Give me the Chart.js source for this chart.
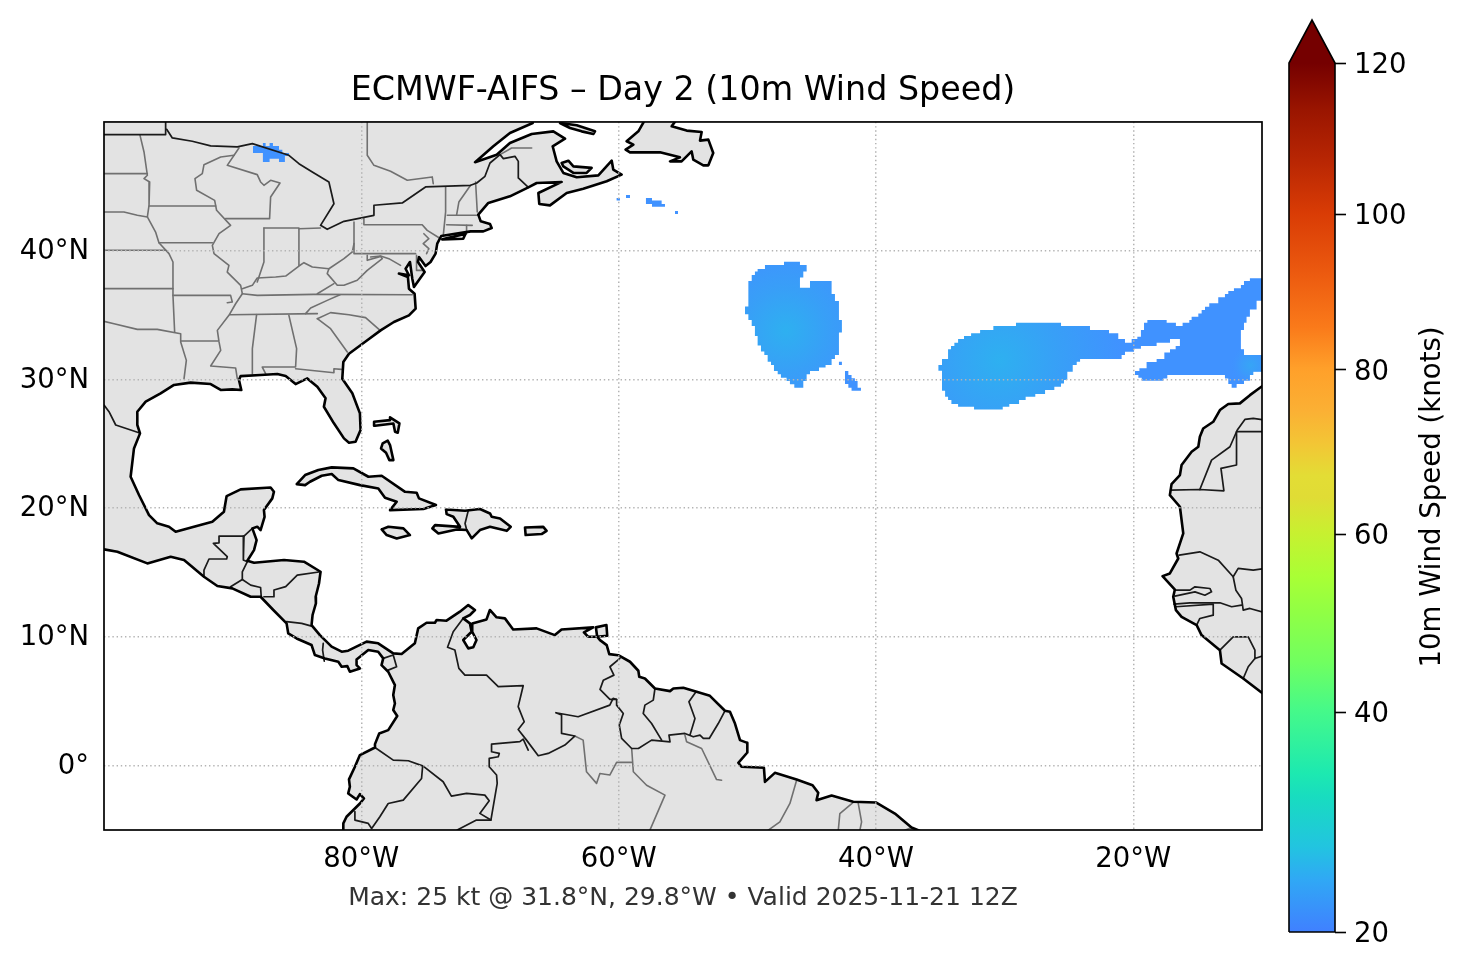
<!DOCTYPE html>
<html>
<head>
<meta charset="utf-8">
<title>ECMWF-AIFS Day 2</title>
<script src="https://cdn.jsdelivr.net/npm/chart.js@4"></script>
<style>
  html, body { margin: 0; padding: 0; background: #fff; }
  canvas { position: absolute; top: 0; }
  #mapChart { left: 0; }
  #barChart { left: 1266px; }
</style>
</head>
<body>
<canvas id="mapChart" width="1366" height="969"></canvas>
<canvas id="barChart" width="200" height="969"></canvas>
<script>
// axis ticks
const lonTicks = [-80, -60, -40, -20];
const latTicks = [0, 10, 20, 30, 40];

// land outlines, [lon, lat]
const landAmericas = [[-102,51],[-66.5,51],[-66.68,49.92],[-68.45,49.14],[-69.74,48.11],[-71.16,46.87],[-69.48,47.46],[-68.45,48.37],[-66.76,49.07],[-65.08,49.27],[-64.17,48.70],[-65.13,48.11],[-64.82,46.94],[-64.30,46.04],[-63.26,45.70],[-61.58,45.85],[-60.54,46.99],[-60.42,46.30],[-59.77,45.91],[-60.93,45.39],[-62.75,44.82],[-64.04,44.48],[-65.34,43.52],[-66.17,43.63],[-66.24,44.48],[-64.43,45.34],[-66.37,45.26],[-67.02,44.92],[-68.45,44.22],[-70.13,43.71],[-70.91,42.80],[-70.72,42.28],[-70.0,42.07],[-69.87,41.76],[-70.52,41.50],[-71.5,41.5],[-73.79,41.14],[-74.10,40.55],[-74.23,39.77],[-74.62,39.12],[-75.01,38.81],[-75.52,39.51],[-75.60,39.12],[-75.08,38.34],[-75.91,37.18],[-76.04,37.83],[-76.22,39.12],[-76.56,38.60],[-76.30,38.09],[-77.08,38.22],[-76.38,37.96],[-76.30,37.05],[-75.86,36.66],[-75.78,35.50],[-76.30,34.98],[-77.47,34.46],[-78.50,33.81],[-79.54,33.04],[-80.96,32.0],[-81.40,31.35],[-81.48,30.06],
  [-80.70,28.92],[-80.11,27.36],[-80.06,26.07],[-80.45,25.16],[-80.96,25.08],[-81.35,25.42],[-82.13,26.59],[-82.91,27.88],[-82.78,28.53],[-83.42,29.43],[-84.20,30.08],[-85.11,29.64],[-85.88,30.26],[-86.53,30.42],[-87.83,30.34],[-89.38,30.26],[-89.51,29.95],[-89.33,29.18],[-90.03,29.23],[-90.93,29.18],[-91.71,29.64],[-93.27,29.75],[-94.56,29.57],[-95.60,28.92],[-96.76,28.27],[-97.41,27.49],[-97.41,26.46],[-97.20,25.81],[-97.67,24.64],[-97.93,22.44],[-97.28,21.02],[-96.50,19.46],[-95.86,18.82],[-94.95,18.56],[-94.43,18.17],[-93.01,18.56],[-91.58,18.95],[-90.68,19.72],[-90.47,20.94],[-89.38,21.46],[-87.05,21.61],[-86.79,21.28],[-86.92,20.76],[-87.57,19.85],[-87.52,19.33],[-87.83,18.30],[-88.09,18.56],[-88.47,18.43],[-88.14,17.52],[-88.34,16.74],[-88.86,15.92],[-88.34,15.76],[-86.01,15.97],[-84.46,15.84],[-83.17,15.06],[-83.29,14.15],[-83.55,13.12],
  [-83.53,12.60],[-83.79,11.70],[-83.87,10.92],[-83.22,10.14],[-82.31,9.24],[-81.53,8.85],[-81.02,8.93],[-79.59,9.63],[-78.69,9.50],[-77.52,8.72],[-76.87,8.67],[-75.84,9.50],[-75.58,10.66],[-74.93,11.10],[-74.28,11.10],[-74.15,11.31],[-73.38,11.26],[-72.34,11.96],[-71.69,12.47],[-71.17,12.09],[-71.56,11.70],[-72.08,11.44],[-71.56,11.05],[-71.43,10.40],[-72.08,9.76],[-71.69,9.11],[-71.30,9.19],[-71.05,9.76],[-71.38,10.40],[-71.38,11.05],[-70.27,11.36],[-70.01,12.09],[-69.49,11.52],[-68.84,11.44],[-68.20,10.58],[-66.38,10.66],[-64.96,10.14],[-64.44,10.58],[-61.98,10.74],[-62.70,10.35],[-62.37,10.01],[-61.67,10.01],[-61.45,9.75],[-60.93,9.36],[-60.73,8.66],[-60.03,8.58],[-59.12,8.07],[-58.47,7.37],[-58.40,6.90],[-57.96,6.77],[-57.18,5.99],[-56.01,5.79],[-55.75,5.99],[-54.98,6.05],[-53.94,5.74],[-52.91,5.42],[-51.74,4.26],[-51.35,4.18],[-50.96,3.27],[-50.57,1.98],[-50.0,1.77],[-50.0,1.02],[-50.70,0.22],[-50.45,-0.09],[-48.71,-0.17],[-48.63,-1.26],[-47.86,-0.56],[-46.17,-1.08],[-44.93,-1.52],[-44.49,-2.11],[-44.62,-2.68],[-43.45,-2.32],[-41.77,-2.81],[-40.01,-2.86],[-38.53,-3.72],[-37.24,-4.81],[-36.72,-5.01],[-35.3,-5.8],[-35,-6.5],[-81.6,-6.5],
  [-81.40,-4.96],[-81.40,-4.49],[-81.15,-3.97],[-80.11,-2.94],[-79.80,-2.55],[-80.11,-2.21],[-80.37,-2.63],[-81.02,-2.16],[-80.89,-1.64],[-80.96,-1.07],[-80.50,-0.09],[-80.11,0.82],[-78.94,1.41],[-78.94,1.67],[-78.61,2.50],[-77.91,2.76],[-77.21,3.85],[-77.52,4.32],[-77.39,4.83],[-77.52,5.48],[-77.39,6.26],[-77.91,7.29],[-78.43,7.81],[-78.30,8.33],[-78.69,8.85],[-79.46,8.98],[-80.37,8.25],[-80.37,7.81],[-80.11,7.55],[-80.89,7.29],[-81.09,7.73],[-81.53,7.68],[-81.79,8.07],[-82.83,8.33],[-83.61,8.59],[-83.87,9.37],[-85.03,9.88],[-85.68,10.27],[-85.81,11.05],[-86.84,12.09],[-87.83,13.12],[-88.60,13.12],[-90.03,13.77],[-91.19,13.95],[-92.23,14.67],[-93.78,15.97],[-94.82,16.23],[-96.63,15.71],[-98.96,16.61],[-100,16.80],[-102,16.9],[-102,51]];
const landAfrica = [[-9.77,29.64],[-10.94,28.78],[-11.72,28.14],[-12.62,28.09],[-13.27,27.62],[-13.79,26.71],[-14.57,26.19],[-14.83,25.55],[-14.95,24.77],[-15.47,24.38],[-16.25,23.35],[-16.38,22.57],[-17.03,21.87],[-17.16,21.01],[-16.38,20.11],[-16.12,18.04],[-16.64,16.48],[-16.51,16.09],[-17.16,14.93],[-17.73,14.72],[-16.77,13.68],[-16.90,13.12],[-16.69,12.08],[-16.25,11.56],[-15.08,10.91],[-14.70,10.14],[-13.27,8.97],[-13.14,7.93],[-11.46,6.77],[-9.77,5.47],[-8,5],[-8,31],[-9.77,29.64]];
const islandAnticosti = [[-64.56,49.92],[-63.26,49.74],[-61.84,49.27],[-61.97,49.07],[-62.88,49.27],[-63.78,49.53],[-64.56,49.92]];
const islandPEI = [[-64.43,46.81],[-63.91,46.99],[-63.52,46.55],[-62.10,46.43],[-62.49,46.04],[-63.52,46.04],[-64.30,46.55],[-64.43,46.81]];
const islandNewfoundland = [[-57.95,50.18],[-58.47,49.27],[-59.38,48.50],[-58.86,48.24],[-59.46,47.85],[-59.12,47.64],[-56.79,47.64],[-55.24,47.25],[-56.01,46.94],[-55.11,46.94],[-54.33,47.72],[-54.20,47.07],[-53.42,46.63],[-53.03,46.63],[-52.65,47.59],[-53.03,48.63],[-53.68,48.55],[-53.55,49.22],[-54.72,49.33],[-55.88,49.66],[-55.50,50.18],[-57.95,50.18]];
const islandLong = [[-73.71,40.88],[-71.90,41.32],[-72.08,40.93],[-73.71,40.88]];
const islandCuba = [[-85.02,21.87],[-84.37,22.57],[-83.34,22.96],[-82.30,23.17],[-80.62,23.09],[-79.45,22.44],[-78.42,22.52],[-76.60,21.27],[-75.70,21.20],[-75.52,20.76],[-74.20,20.24],[-75.18,19.93],[-77.77,19.85],[-77.25,20.50],[-78.16,20.81],[-78.68,21.53],[-80.10,21.79],[-81.78,22.18],[-82.30,22.65],[-83.08,22.52],[-83.99,22.05],[-84.37,21.79],[-85.02,21.87]];
const islandJamaica = [[-78.42,18.35],[-77.90,18.55],[-76.73,18.43],[-76.22,17.91],[-77.25,17.65],[-78.03,17.91],[-78.42,18.35]];
const islandHispaniola = [[-73.42,19.90],[-71.94,19.80],[-70.78,19.93],[-70.0,19.59],[-69.87,19.33],[-69.22,19.20],[-68.39,18.55],[-68.70,18.24],[-70.0,18.55],[-70.78,18.30],[-71.42,17.65],[-71.81,18.30],[-72.59,18.35],[-74.01,18.04],[-74.48,18.43],[-74.27,18.68],[-72.33,18.55],[-72.85,19.33],[-73.37,19.54],[-73.42,19.90]];
const islandPuertoRico = [[-67.28,18.50],[-65.86,18.55],[-65.60,18.24],[-65.99,17.99],[-67.23,17.91],[-67.28,18.50]];
const islandAbaco = [[-79.01,26.71],[-77.77,26.84],[-77.77,27.05],[-77.04,26.58],[-77.17,25.86],[-77.38,25.94],[-77.51,26.58],[-78.94,26.40],[-79.01,26.71]];
const islandAndros = [[-78.34,25.03],[-77.95,25.24],[-77.77,24.90],[-77.51,23.73],[-77.82,23.73],[-78.08,24.30],[-78.47,24.64],[-78.34,25.03]];
const islandTrinidad = [[-61.77,10.74],[-60.95,10.92],[-60.89,10.09],[-61.67,10.01],[-61.77,10.74]];

// country borders
const countryLines = [
  [[-100,49.02],[-95.21,49.02],[-95.21,50]],
  [[-95.13,49.43],[-94.69,48.76],[-93.14,48.50],[-91.71,48.14],[-89.64,48.06],[-88.47,48.32],[-85.63,47.41],[-84.85,46.76],[-83.81,46.12],[-82.52,45.34],[-82.13,43.65],[-83.17,41.97],[-82.65,41.66],[-81.35,42.28],[-79.02,42.75],[-79.02,43.53],[-76.82,43.71],[-75.01,44.95],[-71.51,45.08],[-71.03,45.26],[-70.39,45.78],[-70.0,46.81],[-69.22,47.46],[-68.96,47.15],[-68.06,47.33],[-67.80,46.94],[-67.80,45.65],[-67.02,44.92]],
  [[-100,28.01],[-99.61,27.49],[-99.09,26.46],[-97.28,25.86]],
  [[-88.47,18.43],[-89.12,17.83],[-89.17,15.97],[-88.86,15.84]],
  [[-89.12,17.83],[-91.06,17.83],[-91.06,17.31],[-91.50,17.26],[-90.42,16.23],[-90.47,16.05],[-91.84,16.05],[-92.23,15.19],[-92.23,14.67]],
  [[-88.86,15.84],[-89.25,15.06],[-89.25,14.46],[-90.16,13.90]],
  [[-89.25,14.46],[-88.60,14.02],[-87.83,13.84],[-87.78,13.12]],
  [[-83.17,15.06],[-84.98,14.80],[-85.88,13.90],[-86.79,13.64],[-86.79,13.12],[-87.57,13.12]],
  [[-85.81,11.18],[-84.64,11.05],[-83.87,10.84]],
  [[-82.96,9.50],[-83.01,8.98],[-82.88,8.12]],
  [[-78.30,8.33],[-77.52,8.59],[-77.26,7.68],[-77.91,7.42]],
  [[-72.08,11.44],[-72.86,10.40],[-73.30,9.19],[-72.73,8.98],[-72.42,7.55],[-71.95,7.03],[-70.27,7.03],[-69.36,6.13],[-67.42,6.21],[-67.81,4.58],[-67.34,3.41],[-67.81,2.81],[-67.16,1.98],[-66.25,0.77],[-65.48,0.95],[-64.18,1.60],[-63.41,2.30],[-64.44,2.50],[-64.44,3.93],[-64.88,4.11],[-63.15,3.80],[-60.69,4.70],[-60.43,5.22],[-60.16,5.14]],
  [[-59.90,8.33],[-60.68,7.68],[-60.37,7.03],[-61.19,6.64],[-61.45,5.92],[-60.68,5.14],[-60.16,5.14],[-60.16,4.70],[-59.64,4.05],[-59.95,3.15],[-59.77,2.11],[-58.99,1.33],[-58.47,1.33],[-57.44,1.98],[-56.01,1.85],[-56.09,2.37],[-54.85,2.50],[-54.20,2.24],[-53.68,2.37],[-53.42,2.11],[-52.96,2.11],[-52.26,3.27],[-51.74,4.26]],
  [[-57.18,5.99],[-57.31,5.09],[-57.96,4.70],[-58.09,4.05],[-57.44,3.27],[-56.66,1.98]],
  [[-53.99,5.74],[-54.54,4.96],[-54.07,3.66],[-54.46,2.37]],
  [[-78.94,1.41],[-77.52,0.43],[-76.35,0.38],[-75.19,-0.04],[-73.64,-1.25],[-73.0,-2.37],[-71.82,-2.16],[-70.40,-2.29],[-70.06,-2.73],[-70.79,-3.71],[-69.93,-4.23]],
  [[-75.24,-0.09],[-75.32,-1.0],[-76.74,-2.68],[-77.91,-2.94],[-78.56,-3.97],[-79.20,-4.88],[-79.46,-4.49],[-80.50,-4.23],[-80.50,-3.58]],
  [[-67.03,1.21],[-67.42,2.06],[-67.68,1.86],[-69.88,1.67],[-69.88,1.08],[-69.28,0.95],[-69.36,0.69],[-70.06,0.56],[-70.06,-0.09],[-69.49,-0.73],[-69.44,-1.38],[-69.93,-4.23],[-71.05,-4.23],[-72.47,-4.96],[-73.1,-5.4]],
  [[-71.68,19.85],[-71.94,18.81],[-71.81,18.30]],
  [[-17.10,21.40],[-14.83,21.45],[-12.96,21.35],[-13.19,23.09],[-11.98,23.35],[-11.98,25.94],[-9.77,25.94]],
  [[-14.83,21.45],[-13.92,23.73],[-12.49,24.77],[-11.92,26.07],[-11.33,26.89],[-10.68,26.97],[-9.77,26.84]],
  [[-16.43,16.35],[-14.83,16.61],[-13.40,15.96],[-12.24,14.67],[-11.85,15.32],[-10.68,15.19],[-9.77,15.32]],
  [[-12.24,14.67],[-12.03,13.63],[-11.59,12.99],[-11.46,12.08],[-10.94,12.21],[-9.77,11.87]],
  [[-16.77,13.63],[-15.60,13.63],[-15.21,13.89],[-14.05,13.76],[-13.92,13.50],[-14.44,13.24],[-15.21,13.50],[-16.77,13.17]],
  [[-16.84,12.55],[-15.60,12.65],[-13.27,12.65],[-12.36,12.34],[-11.59,12.47]],
  [[-16.69,12.34],[-13.79,12.55],[-13.79,11.69],[-14.83,11.43],[-15.08,10.91]],
  [[-13.27,8.97],[-12.24,10.0],[-11.07,10.0],[-10.55,8.97],[-10.55,8.32],[-9.77,8.58]],
  [[-11.46,6.77],[-11.07,7.68],[-10.55,8.32]]
];

// state and province borders
const stateLines = [
  [[-97.20,48.96],[-96.89,47.67],[-96.63,45.86],[-96.89,45.60],[-96.45,45.34],[-96.50,43.53],[-96.63,42.62]],
  [[-100,45.99],[-96.63,45.99]],
  [[-100,43.01],[-98.45,43.01],[-97.41,42.75],[-96.63,42.62],[-95.99,41.45],[-95.73,40.62],[-94.95,39.77],[-94.64,39.12],[-94.64,36.53]],
  [[-100,40.03],[-95.21,40.03]],
  [[-100,37.05],[-94.64,37.05]],
  [[-96.50,43.47],[-91.32,43.47]],
  [[-89.90,47.41],[-90.93,47.28],[-92.23,46.68],[-92.36,45.99],[-92.93,45.60],[-92.80,44.69],[-91.40,43.91],[-91.25,43.14],[-90.16,41.97],[-91.06,41.32],[-91.58,40.42],[-91.45,39.77],[-90.29,38.86],[-90.42,38.34],[-89.38,37.31],[-89.25,36.66],[-89.77,35.88],[-90.29,34.98],[-91.19,33.81],[-91.06,32.91],[-90.93,32.26],[-91.71,31.04],[-89.77,30.89],[-89.64,30.06]],
  [[-89.51,47.98],[-90.42,46.63],[-88.09,45.91],[-87.83,45.34],[-87.57,45.08],[-87.05,45.47],[-86.32,45.26],[-87.05,44.17],[-87.13,42.49],[-90.55,42.49]],
  [[-95.73,40.62],[-91.58,40.62]],
  [[-87.57,41.76],[-87.57,39.12],[-88.09,37.57]],
  [[-87.57,41.76],[-84.85,41.76],[-84.85,38.86]],
  [[-84.85,41.71],[-83.17,41.76]],
  [[-89.25,37.05],[-88.47,37.31],[-88.09,37.88],[-86.66,37.96],[-85.88,38.03],[-84.85,38.81],[-84.46,39.07],[-83.81,38.73],[-82.52,38.60],[-81.35,39.38],[-80.70,39.90],[-80.57,40.55]],
  [[-80.57,42.23],[-80.57,39.77],[-75.78,39.77]],
  [[-79.80,42.49],[-79.80,42.02],[-75.27,42.02],[-74.88,41.58],[-73.84,40.93]],
  [[-75.14,41.32],[-74.75,40.93],[-75.19,40.55],[-74.75,40.16],[-74.93,39.77]],
  [[-82.52,38.60],[-82.65,38.22],[-81.87,37.31],[-81.35,37.31],[-80.32,37.70],[-79.54,38.47],[-78.37,39.38],[-78.50,39.56],[-79.54,39.25],[-79.54,39.64]],
  [[-82.13,37.44],[-83.42,36.66]],
  [[-79.28,39.51],[-78.50,39.59],[-77.86,39.38],[-76.95,38.86]],
  [[-89.25,36.66],[-88.09,36.53],[-83.68,36.61],[-76.04,36.58]],
  [[-94.56,36.53],[-90.16,36.53],[-90.03,36.01],[-90.42,35.96]],
  [[-94.64,36.53],[-94.51,33.68]],
  [[-100,34.51],[-99.22,34.33],[-97.41,33.89],[-95.86,33.89],[-94.04,33.55],[-94.04,32.91],[-93.60,31.48],[-93.78,30.06]],
  [[-94.04,32.98],[-91.14,32.98]],
  [[-90.21,35.03],[-83.42,35.11]],
  [[-88.14,35.03],[-88.47,32.39],[-88.47,30.45]],
  [[-85.63,34.98],[-85.03,32.39],[-85.11,30.96],[-87.70,30.96],[-87.44,30.45]],
  [[-85.11,30.83],[-82.13,30.52],[-82.13,30.83],[-81.56,30.78]],
  [[-84.33,35.11],[-83.94,35.55],[-82.65,36.14],[-81.66,36.58]],
  [[-83.42,34.72],[-82.39,33.94],[-81.09,32.13]],
  [[-83.42,34.72],[-82.39,35.19],[-80.96,35.03],[-79.67,34.80],[-78.63,33.89]],
  [[-73.45,44.95],[-73.45,43.01],[-73.63,41.19]],
  [[-71.51,45.08],[-72.42,43.78],[-72.60,42.75]],
  [[-71.12,45.34],[-70.99,43.01]],
  [[-73.32,42.75],[-70.86,42.75]],
  [[-73.37,42.02],[-71.38,41.97]],
  [[-71.82,41.97],[-71.82,41.32]],
  [[-75.71,39.64],[-75.71,38.47],[-75.14,38.47]],
  [[-79.54,50],[-79.54,47.41],[-79.02,46.63],[-77.73,46.17],[-76.43,45.47],[-74.49,45.73],[-74.41,45.21]],
  [[-69.22,47.46],[-68.32,47.98],[-66.76,47.98]],
  [[-63.41,2.30],[-62.76,1.98],[-62.50,-0.48],[-61.72,-1.38],[-61.46,-0.61],[-60.69,-0.73],[-60.16,0.25],[-58.99,0.25]],
  [[-58.99,1.33],[-58.86,-0.48],[-57.83,-1.52],[-56.40,-2.29],[-57.57,-5.01],[-58,-6]],
  [[-54.85,2.37],[-54.72,1.85],[-53.55,1.33],[-52.39,-1.08],[-52.0,-1.13]],
  [[-46.17,-1.13],[-46.69,-2.94],[-47.47,-4.37],[-48.37,-5.01],[-49,-5.5]],
  [[-41.77,-2.86],[-42.81,-3.72],[-42.93,-5.01],[-42.93,-6]],
  [[-41.38,-2.94],[-41.12,-4.37],[-41.25,-5.01],[-41.25,-6]],
  [[-37.24,-4.81],[-37.75,-5.01],[-38.5,-6]]
];

// wind speed areas over 20 kt
const windWest = [[-47.15,39.15],[-45.91,39.15],[-45.91,38.89],[-45.39,38.89],[-45.39,38.38],[-45.65,38.38],[-45.65,37.91],[-45.91,37.91],[-45.91,37.13],[-45.13,37.13],[-45.13,37.65],[-43.45,37.65],[-43.45,36.64],[-43.19,36.64],[-43.19,36.10],[-42.88,36.10],[-42.88,34.62],[-42.65,34.62],[-42.65,33.64],[-42.88,33.64],[-42.88,31.90],[-43.19,31.90],[-43.19,31.59],[-43.45,31.59],[-43.45,31.12],[-43.92,31.12],[-43.92,30.92],[-44.43,30.92],[-44.43,30.66],[-45.13,30.66],[-45.13,30.40],[-45.39,30.40],[-45.39,29.88],[-45.65,29.88],[-45.65,29.36],[-46.35,29.36],[-46.35,29.62],[-46.69,29.62],[-46.69,29.88],[-46.95,29.88],[-46.95,30.14],[-47.39,30.14],[-47.39,30.40],[-47.64,30.40],[-47.64,30.66],[-47.93,30.66],[-47.93,31.12],[-48.16,31.12],[-48.16,31.38],[-48.42,31.38],[-48.42,31.90],[-48.68,31.90],[-48.68,32.16],[-48.94,32.16],[-48.94,32.63],[-49.20,32.63],[-49.20,33.38],[-49.41,33.38],[-49.41,34.15],[-49.66,34.15],[-49.66,34.62],[-49.92,34.62],[-49.92,35.06],[-50.18,35.06],[-50.18,35.66],[-49.92,35.66],[-49.92,37.65],[-49.66,37.65],[-49.66,38.12],[-49.41,38.12],[-49.41,38.38],[-49.20,38.38],[-49.20,38.58],[-48.63,38.58],[-48.63,38.89],[-47.15,38.89],[-47.15,39.15]];
const windEast = [[-35.15,31.12],[-35.15,30.68],[-34.87,30.68],[-34.87,29.12],[-34.63,29.12],[-34.63,28.66],[-34.40,28.66],[-34.40,28.40],[-34.14,28.40],[-34.14,28.09],[-33.62,28.09],[-33.62,27.88],[-32.38,27.88],[-32.38,27.67],[-30.15,27.67],[-30.15,27.88],[-29.64,27.88],[-29.64,28.09],[-28.88,28.09],[-28.88,28.40],[-28.37,28.40],[-28.37,28.66],[-27.62,28.66],[-27.62,28.87],[-26.86,28.87],[-26.86,29.18],[-26.14,29.18],[-26.14,29.44],[-25.62,29.44],[-25.62,29.69],[-25.39,29.69],[-25.39,29.95],[-25.13,29.95],[-25.13,30.60],[-24.71,30.60],[-24.71,31.12],[-24.40,31.12],[-24.40,31.38],[-24.14,31.38],[-24.14,31.58],[-20.91,31.58],[-20.91,31.90],[-20.65,31.90],[-20.65,32.15],[-19.95,32.15],[-19.95,32.39],[-19.41,32.39],[-19.41,32.59],[-18.19,32.59],[-18.19,32.85],[-17.15,32.85],[-17.15,33.14],[-16.38,33.14],[-16.38,32.59],[-16.71,32.59],[-16.71,32.34],[-17.15,32.34],[-17.15,32.10],[-17.59,32.10],[-17.59,31.58],[-18.19,31.58],[-18.19,31.35],[-18.97,31.35],[-18.97,30.86],[-19.53,30.86],[-19.53,30.65],[-19.87,30.65],[-19.87,30.34],[-19.61,30.34],[-19.61,30.13],[-19.35,30.13],[-19.35,29.90],[-17.67,29.90],[-17.67,30.08],[-17.36,30.08],[-17.36,30.34],[-12.88,30.34],[-12.88,30.08],[-12.62,30.08],[-12.62,29.64],[-12.36,29.64],[-12.36,29.36],[-11.97,29.36],[-11.97,29.64],[-11.40,29.64],[-11.40,29.90],[-10.94,29.90],[-10.94,30.34],[-10.68,30.34],[-10.68,30.60],[-9.9,30.60],[-9.9,31.90],[-11.40,31.90],[-11.40,32.34],[-11.64,32.34],[-11.64,33.84],[-11.40,33.84],[-11.40,34.41],[-11.20,34.41],[-11.20,34.87],[-10.94,34.87],[-10.94,35.44],[-10.42,35.44],[-10.42,36.12],[-9.9,36.12],[-9.9,37.85],[-10.94,37.85],[-10.94,37.65],[-11.40,37.65],[-11.40,37.33],[-11.64,37.33],[-11.64,37.08],[-12.18,37.08],[-12.18,36.87],[-12.62,36.87],[-12.62,36.64],[-12.88,36.64],[-12.88,36.38],[-13.40,36.38],[-13.40,35.91],[-14.10,35.91],[-14.10,35.65],[-14.43,35.65],[-14.43,35.39],[-14.69,35.39],[-14.69,35.13],[-14.95,35.13],[-14.95,34.87],[-15.47,34.87],[-15.47,34.62],[-15.65,34.62],[-15.65,34.41],[-16.17,34.41],[-16.17,34.15],[-16.69,34.15],[-16.69,34.41],[-17.41,34.41],[-17.41,34.62],[-18.91,34.62],[-18.91,34.41],[-19.17,34.41],[-19.17,33.84],[-19.41,33.84],[-19.41,33.32],[-19.69,33.32],[-19.69,33.14],[-20.13,33.14],[-20.13,32.85],[-20.65,32.85],[-20.65,33.14],[-21.17,33.14],[-21.17,33.58],[-21.89,33.58],[-21.89,33.84],[-23.37,33.84],[-23.37,34.15],[-25.62,34.15],[-25.62,34.41],[-29.12,34.41],[-29.12,34.15],[-30.88,34.15],[-30.88,33.84],[-31.91,33.84],[-31.91,33.58],[-32.61,33.58],[-32.61,33.37],[-33.16,33.37],[-33.16,33.14],[-33.62,33.14],[-33.62,32.85],[-33.91,32.85],[-33.91,32.59],[-34.17,32.59],[-34.17,32.34],[-34.40,32.34],[-34.40,31.58],[-34.87,31.58],[-34.87,31.12],[-35.15,31.12]];
const windPatches = [
  [[-42.88,31.38],[-42.65,31.38],[-42.65,31.12],[-42.88,31.12]],
  [[-42.41,30.66],[-42.15,30.66],[-42.15,30.35],[-41.90,30.35],[-41.90,30.09],[-41.64,30.09],[-41.64,29.88],[-41.43,29.88],[-41.43,29.36],[-41.17,29.36],[-41.17,29.13],[-41.90,29.13],[-41.90,29.36],[-42.15,29.36],[-42.15,29.65],[-42.41,29.65]],
  [[-60.16,44.09],[-59.90,44.09],[-59.90,43.89],[-60.16,43.89]],
  [[-59.43,44.33],[-59.12,44.33],[-59.12,44.09],[-59.43,44.09]],
  [[-57.88,44.09],[-57.41,44.09],[-57.41,43.89],[-56.66,43.89],[-56.66,43.63],[-56.40,43.63],[-56.40,43.42],[-57.41,43.42],[-57.41,43.63],[-57.88,43.63]],
  [[-55.62,43.08],[-55.39,43.08],[-55.39,42.85],[-55.62,42.85]],
  [[-88.42,48.14],[-87.65,48.14],[-87.65,48.37],[-87.44,48.37],[-87.44,48.14],[-87.13,48.14],[-87.13,48.37],[-86.87,48.37],[-86.87,48.14],[-86.40,48.14],[-86.40,47.85],[-86.14,47.85],[-86.14,47.59],[-85.63,47.59],[-85.63,47.36],[-85.94,47.36],[-85.94,46.89],[-86.40,46.89],[-86.40,47.15],[-87.13,47.15],[-87.13,46.89],[-87.65,46.89],[-87.65,47.59],[-88.42,47.59]]
];

// colour bar: ticks sit unevenly along the bar
const barLabels = [20, 40, 60, 80, 100, 120];
const barTickPlace = [0, 0.253, 0.458, 0.647, 0.826, 1];
const barStopPlace = [0, 0.06, 0.098, 0.155, 0.183, 0.254, 0.31, 0.367, 0.409, 0.46, 0.5, 0.525, 0.563, 0.6, 0.648, 0.696, 0.754, 0.827, 0.888, 0.946, 1];
const barStopColor = ['#4080ff', '#30a8f5', '#22c4e0', '#18dcc0', '#1de9b0', '#45f98a', '#70ff60', '#90ff45', '#a9ff35', '#c8f030', '#e0dc35', '#e3dd35', '#f3c535', '#fbb034', '#ffa02a', '#fa7a1a', '#ed5c10', '#d93c05', '#b82603', '#9a1500', '#750000'];
const barShapeX = [0, 1, 1, 0.5, 0, 0];
const barShapeY = [0, 0, 1, 1.0495, 1, 0];

Chart.defaults.font.family = "'DejaVu Sans', sans-serif";
Chart.defaults.color = '#000';
Chart.defaults.animation = false;

const toPoints = pts => pts.map(p => ({ x: p[0], y: p[1] }));

// fades from a wind core out to the plain edge colour
function windFill(lon, lat, radius, core, middle, edge) {
  return function (c) {
    const { x, y } = c.chart.scales;
    const px = x.getPixelForValue(lon);
    const py = y.getPixelForValue(lat);
    const r = Math.abs(y.getPixelForValue(lat + radius) - py);
    if (!isFinite(px) || !isFinite(py) || !isFinite(r)) return edge; // scales not laid out yet
    const g = c.chart.ctx.createRadialGradient(px, py, 0, px, py, r);
    g.addColorStop(0, core);
    g.addColorStop(0.5, middle);
    g.addColorStop(1, edge);
    return g;
  };
}

function shape(pts, color, order) {
  return { data: toPoints(pts), showLine: true, fill: 'shape', backgroundColor: color, borderWidth: 0, pointRadius: 0, order: order };
}
function line(pts, color, width, order) {
  return { data: toPoints(pts), showLine: true, fill: false, borderColor: color, borderWidth: width, borderJoinStyle: 'round', borderCapStyle: 'round', pointRadius: 0, order: order };
}

const landShapes = [landAmericas, landAfrica, islandAnticosti, islandPEI, islandNewfoundland, islandLong, islandCuba, islandJamaica, islandHispaniola, islandPuertoRico, islandAbaco, islandAndros, islandTrinidad];

const mapSets = [];
landShapes.forEach(s => mapSets.push(shape(s, '#e3e3e3', 6)));
stateLines.forEach(s => mapSets.push(line(s, '#707070', 1.6, 5)));
mapSets.push(shape(windWest, windFill(-47, 33.8, 6.5, '#2eb0f0', '#389ff7', '#4092ff'), 4));
mapSets.push(shape(windEast, windFill(-30.4, 31.5, 9.5, '#2eb0f0', '#389ff7', '#4092ff'), 4));
mapSets.push(shape(windEast, windFill(-10.9, 31.1, 1.6, 'rgba(52,170,244,0.8)', 'rgba(52,170,244,0.35)', 'rgba(64,146,255,0)'), 3));
windPatches.forEach(s => mapSets.push(shape(s, '#4092ff', 4)));
countryLines.forEach(s => mapSets.push(line(s, '#1a1a1a', 1.7, 2)));
landShapes.forEach(s => mapSets.push(line(s, '#000', 2.6, 1)));

const frame = {
  id: 'frame',
  afterDraw(chart) {
    const a = chart.chartArea;
    const c = chart.ctx;
    c.save();
    c.strokeStyle = '#000';
    c.lineWidth = 1.7;
    c.strokeRect(a.left, a.top, a.right - a.left, a.bottom - a.top);
    c.restore();
  }
};

new Chart(document.getElementById('mapChart'), {
  type: 'scatter',
  data: { datasets: mapSets },
  plugins: [frame],
  options: {
    responsive: false,
    layout: { padding: 0 },
    plugins: {
      legend: { display: false },
      tooltip: { enabled: false },
      title: {
        display: true,
        text: 'ECMWF-AIFS – Day 2 (10m Wind Speed)',
        font: { size: 33.3, weight: 'normal' },
        padding: { top: 71, bottom: 11 }
      }
    },
    scales: {
      x: {
        type: 'linear',
        min: -100,
        max: -10,
        afterBuildTicks: s => { s.ticks = lonTicks.map(v => ({ value: v })); },
        afterFit: s => { s.height = 139; },
        ticks: {
          autoSkip: false,
          maxRotation: 0,
          padding: 13,
          font: { size: 27.5 },
          callback: v => Math.abs(v) + '°W'
        },
        grid: { color: '#b4b4b4', lineWidth: 1.5, drawTicks: false, z: 1 },
        border: { display: false, dash: [1.4, 2.8] },
        title: {
          display: true,
          text: 'Max: 25 kt @ 31.8°N, 29.8°W • Valid 2025-11-21 12Z',
          color: '#333',
          font: { size: 25 },
          padding: { top: 0, bottom: 56 }
        }
      },
      y: {
        type: 'linear',
        min: -5,
        max: 50,
        afterBuildTicks: s => { s.ticks = latTicks.map(v => ({ value: v })); },
        afterFit: s => { s.width = 104; },
        ticks: {
          autoSkip: false,
          padding: 15,
          labelOffset: 1,
          font: { size: 27.5 },
          callback: v => v === 0 ? '0°' : v + '°N'
        },
        grid: { color: '#b4b4b4', lineWidth: 1.5, drawTicks: false, z: 1 },
        border: { display: false, dash: [1.4, 2.8] }
      },
      y2: {
        type: 'linear',
        position: 'right',
        min: -5,
        max: 50,
        afterFit: s => { s.width = 104; },
        ticks: { display: false },
        grid: { display: false },
        border: { display: false }
      }
    }
  }
});

function barFill(c) {
  const y = c.chart.scales.y;
  const y0 = y.getPixelForValue(0);
  const y1 = y.getPixelForValue(1);
  if (!isFinite(y0) || !isFinite(y1)) return '#4080ff';
  const g = c.chart.ctx.createLinearGradient(0, y0, 0, y1);
  barStopPlace.forEach((p, i) => g.addColorStop(p, barStopColor[i]));
  return g;
}

const barTitle = {
  id: 'barTitle',
  afterDraw(chart) {
    const c = chart.ctx;
    c.save();
    c.translate(167, 497);
    c.rotate(-Math.PI / 2);
    c.textAlign = 'center';
    c.textBaseline = 'middle';
    c.fillStyle = '#000';
    c.font = "27.6px 'DejaVu Sans'";
    c.fillText('10m Wind Speed (knots)', 0, 0);
    c.restore();
  }
};

new Chart(document.getElementById('barChart'), {
  type: 'scatter',
  data: {
    datasets: [{
      data: barShapeX.map((x, i) => ({ x: x, y: barShapeY[i] })),
      showLine: true,
      fill: 'shape',
      backgroundColor: barFill,
      borderColor: '#000',
      borderWidth: 1.6,
      pointRadius: 0,
      clip: false
    }]
  },
  plugins: [barTitle],
  options: {
    responsive: false,
    layout: { padding: { left: 23, top: 20, bottom: 37, right: 0 } },
    plugins: { legend: { display: false }, tooltip: { enabled: false } },
    scales: {
      x: { type: 'linear', min: 0, max: 1, display: false },
      y: {
        type: 'linear',
        position: 'right',
        min: 0,
        max: 1.0495,
        afterBuildTicks: s => { s.ticks = barTickPlace.map(v => ({ value: v })); },
        afterFit: s => { s.width = 131; s.paddingTop = 0; s.paddingBottom = 0; },
        ticks: {
          autoSkip: false,
          padding: 8,
          labelOffset: 3,
          font: { size: 27.5 },
          callback: (v, i) => barLabels[i]
        },
        grid: { drawOnChartArea: false, drawTicks: true, tickLength: 11, tickColor: '#000', tickWidth: 1.6 },
        border: { display: false }
      }
    }
  }
});
</script>
</body>
</html>
